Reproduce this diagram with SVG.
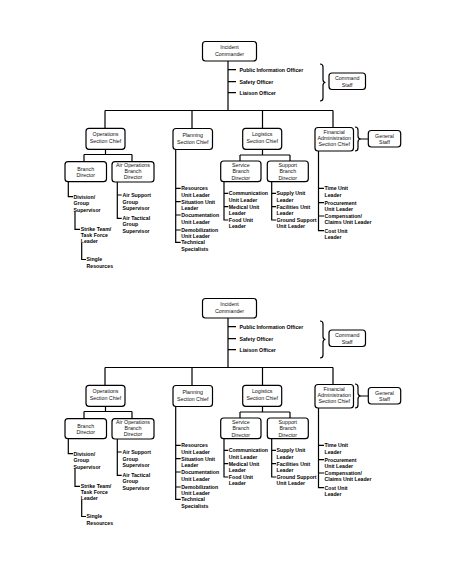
<svg xmlns="http://www.w3.org/2000/svg" width="474" height="576" viewBox="0 0 474 576">
<style>
.box{fill:#fff;stroke:#000;stroke-width:1.2}
.ln{fill:none;stroke:#000;stroke-width:1.2}
.bt{font-family:"Liberation Sans",Arial,sans-serif;font-size:5.3px;text-anchor:middle;fill:#111}
.lt{font-family:"Liberation Sans",Arial,sans-serif;font-size:5.2px;font-weight:bold;fill:#000}
</style>
<rect width="474" height="576" fill="#fff"/>
<g id="chart-1">
<g id="connectors-1">
<path class="ln" d="M228,61 V110.5 M228,69.7 H236 M228,81.7 H236 M228,92.7 H236 M105,110.5 H333 M105,110.5 V128.3 M192,110.5 V128.5 M262.5,110.5 V128.3 M333,110.5 V127.5"/>
<path class="ln" d="M105.5,149.3 V154.5 M84,154.5 H132 M84,154.5 V161.7 M132,154.5 V161.7 M262.5,149.3 V155 M240,155 H290 M240,155 V161 M290,155 V161"/>
<path class="ln" d="M68.3,181.7 V196.7 H73 M75,211.5 V229.3 H80 M81.7,243 V259.5 H86 M117.3,182 V218.3 H121.7 M117.3,195 H121.7"/>
<path class="ln" d="M175.7,149.5 V242.3 H180.7 M175.7,188.3 H180.7 M175.7,201.7 H180.7 M175.7,215 H180.7 M175.7,230 H180.7"/>
<path class="ln" d="M224,181.7 V220 H228.3 M224,193.3 H228.3 M224,206.7 H228.3 M271.7,181.7 V220 H276 M271.7,193.3 H276 M271.7,206.7 H276"/>
<path class="ln" d="M318.5,151 V230.7 H324 M318.5,188.3 H324 M318.5,202.7 H324 M318.5,216 H324"/>
<path class="ln" d="M320,64 Q323,64 323,67 V79.5 Q323,82.5 325.5,82.5 Q323,82.5 323,85.5 V98 Q323,101 320,101"/>
<path class="ln" d="M355,127 Q358,127 358,130 V136 Q358,139 361,139 Q358,139 358,142 V148 Q358,151 355,151 M361,139 H368.3"/>
</g>
<g id="incident-commander-1"><rect class="box" x="202.5" y="41.5" width="54" height="19.5" rx="3"/><text class="bt"><tspan x="229.5" y="49.3">Incident</tspan><tspan x="229.5" y="55.8">Commander</tspan></text></g>
<g id="command-officers-1"><text class="lt"><tspan x="239.5" y="71.6">Public Information Officer</tspan><tspan x="239.5" y="83.6">Safety Officer</tspan><tspan x="239.5" y="94.6">Liaison Officer</tspan></text></g>
<g id="command-staff-1"><rect class="box" x="329" y="73" width="36.5" height="16.5" rx="3"/><text class="bt"><tspan x="347.2" y="80.4">Command</tspan><tspan x="347.2" y="86.9">Staff</tspan></text></g>
<g id="operations-1"><rect class="box" x="86" y="128.3" width="39" height="21" rx="3"/><text class="bt"><tspan x="105.5" y="136.4">Operations</tspan><tspan x="105.5" y="143.1">Section Chief</tspan></text></g>
<g id="planning-1"><rect class="box" x="173" y="128.5" width="39.5" height="21" rx="3"/><text class="bt"><tspan x="192.7" y="137.4">Planning</tspan><tspan x="192.7" y="143.9">Section Chief</tspan></text></g>
<g id="logistics-1"><rect class="box" x="242.7" y="128.3" width="39" height="21" rx="3"/><text class="bt"><tspan x="262.2" y="136.4">Logistics</tspan><tspan x="262.2" y="143.1">Section Chief</tspan></text></g>
<g id="finance-1"><rect class="box" x="315" y="127.5" width="38.5" height="23.5" rx="3"/><text class="bt"><tspan x="334.2" y="133.9">Financial</tspan><tspan x="334.2" y="139.7">Administration</tspan><tspan x="334.2" y="145.5">Section Chief</tspan></text></g>
<g id="general-staff-1"><rect class="box" x="368.3" y="130.5" width="32.4" height="16.5" rx="3"/><text class="bt"><tspan x="384.5" y="137.5">General</tspan><tspan x="384.5" y="143.5">Staff</tspan></text></g>
<g id="branch-director-1"><rect class="box" x="65" y="161.7" width="41.5" height="20" rx="3"/><text class="bt"><tspan x="85.7" y="170.9">Branch</tspan><tspan x="85.7" y="177.2">Director</tspan></text></g>
<g id="air-operations-1"><rect class="box" x="112" y="161.7" width="42" height="20.3" rx="3"/><text class="bt"><tspan x="133" y="166.9">Air Operations</tspan><tspan x="133" y="172.9">Branch</tspan><tspan x="133" y="178.9">Director</tspan></text></g>
<g id="service-branch-1"><rect class="box" x="220.7" y="161" width="40.3" height="20.7" rx="3"/><text class="bt"><tspan x="240.8" y="166.9">Service</tspan><tspan x="240.8" y="173.4">Branch</tspan><tspan x="240.8" y="179.9">Director</tspan></text></g>
<g id="support-branch-1"><rect class="box" x="267.3" y="161" width="41" height="20.7" rx="3"/><text class="bt"><tspan x="287.8" y="166.9">Support</tspan><tspan x="287.8" y="173.4">Branch</tspan><tspan x="287.8" y="179.9">Director</tspan></text></g>
<g id="division-1"><text class="lt"><tspan x="73.5" y="198.6">Division/</tspan><tspan x="73.5" y="205.2">Group</tspan><tspan x="73.5" y="211.9">Supervisor</tspan></text></g>
<g id="strike-team-1"><text class="lt"><tspan x="80.8" y="231.2">Strike Team/</tspan><tspan x="80.8" y="237.1">Task Force</tspan><tspan x="80.8" y="242.9">Leader</tspan></text></g>
<g id="single-resources-1"><text class="lt"><tspan x="86.5" y="261.4">Single</tspan><tspan x="86.5" y="268.4">Resources</tspan></text></g>
<g id="air-support-1"><text class="lt"><tspan x="122.5" y="196.9">Air Support</tspan><tspan x="122.5" y="203.6">Group</tspan><tspan x="122.5" y="210.2">Supervisor</tspan></text></g>
<g id="air-tactical-1"><text class="lt"><tspan x="122.5" y="220.2">Air Tactical</tspan><tspan x="122.5" y="226.4">Group</tspan><tspan x="122.5" y="232.6">Supervisor</tspan></text></g>
<g id="resources-unit-1"><text class="lt"><tspan x="181.3" y="190.2">Resources</tspan><tspan x="181.3" y="196.6">Unit Leader</tspan></text></g>
<g id="situation-unit-1"><text class="lt"><tspan x="181.3" y="203.6">Situation Unit</tspan><tspan x="181.3" y="210.1">Leader</tspan></text></g>
<g id="documentation-unit-1"><text class="lt"><tspan x="181.3" y="216.9">Documentation</tspan><tspan x="181.3" y="223.6">Unit Leader</tspan></text></g>
<g id="demobilization-unit-1"><text class="lt"><tspan x="181.3" y="231.9">Demobilization</tspan><tspan x="181.3" y="238.4">Unit Leader</tspan></text></g>
<g id="technical-specialists-1"><text class="lt"><tspan x="181.3" y="244.2">Technical</tspan><tspan x="181.3" y="251.1">Specialists</tspan></text></g>
<g id="communication-unit-1"><text class="lt"><tspan x="228.8" y="195.2">Communication</tspan><tspan x="228.8" y="201.6">Unit Leader</tspan></text></g>
<g id="medical-unit-1"><text class="lt"><tspan x="228.8" y="208.6">Medical Unit</tspan><tspan x="228.8" y="214.9">Leader</tspan></text></g>
<g id="food-unit-1"><text class="lt"><tspan x="228.8" y="221.9">Food Unit</tspan><tspan x="228.8" y="227.9">Leader</tspan></text></g>
<g id="supply-unit-1"><text class="lt"><tspan x="276.5" y="195.2">Supply Unit</tspan><tspan x="276.5" y="201.6">Leader</tspan></text></g>
<g id="facilities-unit-1"><text class="lt"><tspan x="276.5" y="208.6">Facilities Unit</tspan><tspan x="276.5" y="214.9">Leader</tspan></text></g>
<g id="ground-support-unit-1"><text class="lt"><tspan x="276.5" y="221.9">Ground Support</tspan><tspan x="276.5" y="227.9">Unit Leader</tspan></text></g>
<g id="time-unit-1"><text class="lt"><tspan x="324.5" y="190.2">Time Unit</tspan><tspan x="324.5" y="196.6">Leader</tspan></text></g>
<g id="procurement-unit-1"><text class="lt"><tspan x="324.5" y="204.6">Procurement</tspan><tspan x="324.5" y="210.6">Unit Leader</tspan></text></g>
<g id="compensation-unit-1"><text class="lt"><tspan x="324.5" y="217.9">Compensation/</tspan><tspan x="324.5" y="224.2">Claims Unit Leader</tspan></text></g>
<g id="cost-unit-1"><text class="lt"><tspan x="324.5" y="232.6">Cost Unit</tspan><tspan x="324.5" y="238.9">Leader</tspan></text></g>
</g>
<g id="chart-2" transform="translate(0,257)">
<g id="connectors-2">
<path class="ln" d="M228,61 V110.5 M228,69.7 H236 M228,81.7 H236 M228,92.7 H236 M105,110.5 H333 M105,110.5 V128.3 M192,110.5 V128.5 M262.5,110.5 V128.3 M333,110.5 V127.5"/>
<path class="ln" d="M105.5,149.3 V154.5 M84,154.5 H132 M84,154.5 V161.7 M132,154.5 V161.7 M262.5,149.3 V155 M240,155 H290 M240,155 V161 M290,155 V161"/>
<path class="ln" d="M68.3,181.7 V196.7 H73 M75,211.5 V229.3 H80 M81.7,243 V259.5 H86 M117.3,182 V218.3 H121.7 M117.3,195 H121.7"/>
<path class="ln" d="M175.7,149.5 V242.3 H180.7 M175.7,188.3 H180.7 M175.7,201.7 H180.7 M175.7,215 H180.7 M175.7,230 H180.7"/>
<path class="ln" d="M224,181.7 V220 H228.3 M224,193.3 H228.3 M224,206.7 H228.3 M271.7,181.7 V220 H276 M271.7,193.3 H276 M271.7,206.7 H276"/>
<path class="ln" d="M318.5,151 V230.7 H324 M318.5,188.3 H324 M318.5,202.7 H324 M318.5,216 H324"/>
<path class="ln" d="M320,64 Q323,64 323,67 V79.5 Q323,82.5 325.5,82.5 Q323,82.5 323,85.5 V98 Q323,101 320,101"/>
<path class="ln" d="M355,127 Q358,127 358,130 V136 Q358,139 361,139 Q358,139 358,142 V148 Q358,151 355,151 M361,139 H368.3"/>
</g>
<g id="incident-commander-2"><rect class="box" x="202.5" y="41.5" width="54" height="19.5" rx="3"/><text class="bt"><tspan x="229.5" y="49.3">Incident</tspan><tspan x="229.5" y="55.8">Commander</tspan></text></g>
<g id="command-officers-2"><text class="lt"><tspan x="239.5" y="71.6">Public Information Officer</tspan><tspan x="239.5" y="83.6">Safety Officer</tspan><tspan x="239.5" y="94.6">Liaison Officer</tspan></text></g>
<g id="command-staff-2"><rect class="box" x="329" y="73" width="36.5" height="16.5" rx="3"/><text class="bt"><tspan x="347.2" y="80.4">Command</tspan><tspan x="347.2" y="86.9">Staff</tspan></text></g>
<g id="operations-2"><rect class="box" x="86" y="128.3" width="39" height="21" rx="3"/><text class="bt"><tspan x="105.5" y="136.4">Operations</tspan><tspan x="105.5" y="143.1">Section Chief</tspan></text></g>
<g id="planning-2"><rect class="box" x="173" y="128.5" width="39.5" height="21" rx="3"/><text class="bt"><tspan x="192.7" y="137.4">Planning</tspan><tspan x="192.7" y="143.9">Section Chief</tspan></text></g>
<g id="logistics-2"><rect class="box" x="242.7" y="128.3" width="39" height="21" rx="3"/><text class="bt"><tspan x="262.2" y="136.4">Logistics</tspan><tspan x="262.2" y="143.1">Section Chief</tspan></text></g>
<g id="finance-2"><rect class="box" x="315" y="127.5" width="38.5" height="23.5" rx="3"/><text class="bt"><tspan x="334.2" y="133.9">Financial</tspan><tspan x="334.2" y="139.7">Administration</tspan><tspan x="334.2" y="145.5">Section Chief</tspan></text></g>
<g id="general-staff-2"><rect class="box" x="368.3" y="130.5" width="32.4" height="16.5" rx="3"/><text class="bt"><tspan x="384.5" y="137.5">General</tspan><tspan x="384.5" y="143.5">Staff</tspan></text></g>
<g id="branch-director-2"><rect class="box" x="65" y="161.7" width="41.5" height="20" rx="3"/><text class="bt"><tspan x="85.7" y="170.9">Branch</tspan><tspan x="85.7" y="177.2">Director</tspan></text></g>
<g id="air-operations-2"><rect class="box" x="112" y="161.7" width="42" height="20.3" rx="3"/><text class="bt"><tspan x="133" y="166.9">Air Operations</tspan><tspan x="133" y="172.9">Branch</tspan><tspan x="133" y="178.9">Director</tspan></text></g>
<g id="service-branch-2"><rect class="box" x="220.7" y="161" width="40.3" height="20.7" rx="3"/><text class="bt"><tspan x="240.8" y="166.9">Service</tspan><tspan x="240.8" y="173.4">Branch</tspan><tspan x="240.8" y="179.9">Director</tspan></text></g>
<g id="support-branch-2"><rect class="box" x="267.3" y="161" width="41" height="20.7" rx="3"/><text class="bt"><tspan x="287.8" y="166.9">Support</tspan><tspan x="287.8" y="173.4">Branch</tspan><tspan x="287.8" y="179.9">Director</tspan></text></g>
<g id="division-2"><text class="lt"><tspan x="73.5" y="198.6">Division/</tspan><tspan x="73.5" y="205.2">Group</tspan><tspan x="73.5" y="211.9">Supervisor</tspan></text></g>
<g id="strike-team-2"><text class="lt"><tspan x="80.8" y="231.2">Strike Team/</tspan><tspan x="80.8" y="237.1">Task Force</tspan><tspan x="80.8" y="242.9">Leader</tspan></text></g>
<g id="single-resources-2"><text class="lt"><tspan x="86.5" y="261.4">Single</tspan><tspan x="86.5" y="268.4">Resources</tspan></text></g>
<g id="air-support-2"><text class="lt"><tspan x="122.5" y="196.9">Air Support</tspan><tspan x="122.5" y="203.6">Group</tspan><tspan x="122.5" y="210.2">Supervisor</tspan></text></g>
<g id="air-tactical-2"><text class="lt"><tspan x="122.5" y="220.2">Air Tactical</tspan><tspan x="122.5" y="226.4">Group</tspan><tspan x="122.5" y="232.6">Supervisor</tspan></text></g>
<g id="resources-unit-2"><text class="lt"><tspan x="181.3" y="190.2">Resources</tspan><tspan x="181.3" y="196.6">Unit Leader</tspan></text></g>
<g id="situation-unit-2"><text class="lt"><tspan x="181.3" y="203.6">Situation Unit</tspan><tspan x="181.3" y="210.1">Leader</tspan></text></g>
<g id="documentation-unit-2"><text class="lt"><tspan x="181.3" y="216.9">Documentation</tspan><tspan x="181.3" y="223.6">Unit Leader</tspan></text></g>
<g id="demobilization-unit-2"><text class="lt"><tspan x="181.3" y="231.9">Demobilization</tspan><tspan x="181.3" y="238.4">Unit Leader</tspan></text></g>
<g id="technical-specialists-2"><text class="lt"><tspan x="181.3" y="244.2">Technical</tspan><tspan x="181.3" y="251.1">Specialists</tspan></text></g>
<g id="communication-unit-2"><text class="lt"><tspan x="228.8" y="195.2">Communication</tspan><tspan x="228.8" y="201.6">Unit Leader</tspan></text></g>
<g id="medical-unit-2"><text class="lt"><tspan x="228.8" y="208.6">Medical Unit</tspan><tspan x="228.8" y="214.9">Leader</tspan></text></g>
<g id="food-unit-2"><text class="lt"><tspan x="228.8" y="221.9">Food Unit</tspan><tspan x="228.8" y="227.9">Leader</tspan></text></g>
<g id="supply-unit-2"><text class="lt"><tspan x="276.5" y="195.2">Supply Unit</tspan><tspan x="276.5" y="201.6">Leader</tspan></text></g>
<g id="facilities-unit-2"><text class="lt"><tspan x="276.5" y="208.6">Facilities Unit</tspan><tspan x="276.5" y="214.9">Leader</tspan></text></g>
<g id="ground-support-unit-2"><text class="lt"><tspan x="276.5" y="221.9">Ground Support</tspan><tspan x="276.5" y="227.9">Unit Leader</tspan></text></g>
<g id="time-unit-2"><text class="lt"><tspan x="324.5" y="190.2">Time Unit</tspan><tspan x="324.5" y="196.6">Leader</tspan></text></g>
<g id="procurement-unit-2"><text class="lt"><tspan x="324.5" y="204.6">Procurement</tspan><tspan x="324.5" y="210.6">Unit Leader</tspan></text></g>
<g id="compensation-unit-2"><text class="lt"><tspan x="324.5" y="217.9">Compensation/</tspan><tspan x="324.5" y="224.2">Claims Unit Leader</tspan></text></g>
<g id="cost-unit-2"><text class="lt"><tspan x="324.5" y="232.6">Cost Unit</tspan><tspan x="324.5" y="238.9">Leader</tspan></text></g>
</g>
</svg>
